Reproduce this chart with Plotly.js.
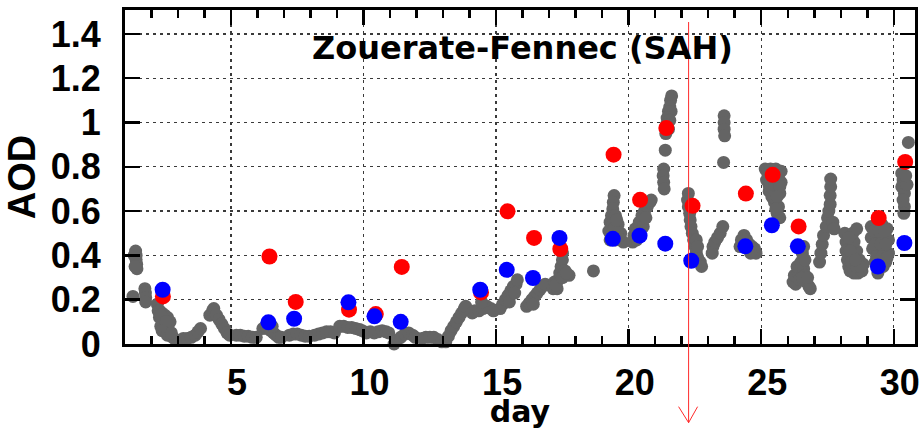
<!DOCTYPE html>
<html>
<head>
<meta charset="utf-8">
<script src="https://cdn.plot.ly/plotly-3.0.1.min.js"></script>
<style>html,body{margin:0;padding:0;background:#fff}</style>
</head>
<body>
<div id="chart" style="width:920px;height:429px"></div>
<script>
// Ground-based AOD samples through the month (day of month, AOD)
const grayDay = [
  1.30,1.40,1.42,1.42,1.44,1.45,1.35,1.38,1.75,1.77,1.78,1.78,
  2.22,2.25,2.30,2.40,2.50,2.60,2.30,2.45,2.60,2.70,2.35,2.50,2.65,2.70,2.80,2.90,2.35,2.55,2.40,2.60,2.75,
  3.20,3.35,3.50,3.65,3.75,3.85,
  4.20,4.30,4.35,4.45,4.55,4.65,4.75,4.85,4.95,
  5.20,5.35,5.50,5.65,5.80,5.95,
  6.20,6.35,6.50,6.60,6.70,6.80,6.90,6.55,
  7.20,7.35,7.50,7.65,7.80,7.95,
  8.15,8.30,8.45,8.60,8.75,8.90,
  9.10,9.25,9.40,9.55,9.70,9.85,9.95,
  10.10,10.25,10.40,10.55,10.70,10.85,10.95,
  11.15,11.25,11.40,11.55,11.70,11.85,11.95,
  12.20,12.35,12.50,12.65,12.80,12.95,
  13.10,13.20,13.30,13.40,13.50,13.60,13.70,13.80,13.85,
  14.10,14.20,14.35,14.50,14.65,14.80,14.90,14.45,
  15.15,15.25,15.35,15.45,15.55,15.65,15.75,15.80,15.50,15.70,
  16.15,16.25,16.35,16.45,16.55,16.65,16.75,16.85,16.40,
  17.15,17.30,17.20,17.35,17.40,17.45,17.50,17.50,17.60,17.75,17.25,17.50,17.65,
  18.67,
  19.45,19.42,19.40,19.35,19.50,19.30,19.45,19.60,19.25,19.40,19.55,19.70,19.30,19.50,19.70,19.80,19.35,19.60,19.45,19.55,
  20.15,20.20,20.30,20.25,20.40,20.50,20.60,20.70,20.80,20.85,20.40,20.55,20.30,20.65,
  21.62,21.58,21.55,21.50,21.60,21.45,21.55,21.42,21.50,21.40,21.38,21.32,21.30,21.32,21.34,
  22.25,22.22,22.25,22.30,22.32,22.35,22.40,22.45,22.50,22.55,22.60,22.70,22.75,22.55,22.60,
  23.15,23.18,23.25,23.35,23.45,23.55,23.60,23.60,23.60,23.62,23.58,
  24.20,24.25,24.35,24.45,24.55,24.65,24.75,24.80,24.60,
  25.15,25.35,25.55,25.75,25.20,25.40,25.60,25.75,25.30,25.50,25.70,25.50,25.65,25.60,25.70,
  25.25,25.45,25.65,25.30,25.50,25.70,25.40,25.60,25.55,
  26.20,26.30,26.25,26.40,26.35,26.50,26.55,26.60,26.60,26.65,26.70,26.80,26.85,26.65,26.45,26.55,26.75,
  27.20,27.25,27.30,27.35,27.45,27.50,27.55,27.60,27.60,27.62,27.62,27.70,27.75,
  28.15,28.20,28.20,28.25,28.30,28.35,28.50,28.65,28.80,28.85,28.70,28.60,28.50,28.45,28.60,
  28.30,28.35,28.40,28.60,28.75,28.55,
  29.15,29.35,29.55,29.75,29.15,29.35,29.55,29.80,29.20,29.40,29.60,29.80,29.30,29.50,29.70,29.40,
  29.25,29.45,29.65,29.30,29.50,29.70,29.35,29.55,29.75,29.45,29.60,
  30.55,30.30,30.35,30.30,30.40,30.35,30.40,30.38,30.50,30.45
];
const grayAod = [
  0.215,0.42,0.40,0.38,0.36,0.34,0.40,0.35,0.25,0.23,0.21,0.19,
  0.18,0.15,0.15,0.14,0.13,0.12,0.12,0.10,0.09,0.10,0.08,0.07,0.06,0.04,0.03,0.02,0.13,0.10,0.06,0.04,0.05,
  0.025,0.025,0.03,0.04,0.055,0.07,
  0.13,0.15,0.16,0.13,0.11,0.09,0.07,0.05,0.04,
  0.04,0.04,0.035,0.035,0.03,0.03,
  0.07,0.07,0.06,0.05,0.04,0.03,0.03,0.08,
  0.04,0.045,0.045,0.04,0.035,0.035,
  0.04,0.045,0.05,0.055,0.055,0.05,
  0.08,0.08,0.075,0.075,0.07,0.065,0.06,
  0.05,0.055,0.05,0.055,0.06,0.055,0.05,
  0.0,0.015,0.03,0.045,0.05,0.04,0.03,
  0.025,0.03,0.03,0.03,0.02,0.01,
  0.01,0.035,0.06,0.08,0.10,0.12,0.14,0.16,0.17,
  0.14,0.15,0.15,0.16,0.17,0.16,0.15,0.19,
  0.16,0.18,0.20,0.22,0.24,0.26,0.27,0.29,0.19,0.23,
  0.17,0.185,0.20,0.215,0.23,0.245,0.26,0.27,0.18,
  0.25,0.25,0.28,0.29,0.32,0.35,0.38,0.41,0.33,0.31,0.265,0.30,0.32,
  0.33,
  0.67,0.64,0.61,0.58,0.58,0.55,0.55,0.54,0.51,0.51,0.50,0.50,0.47,0.47,0.47,0.46,0.49,0.48,0.52,0.56,
  0.46,0.49,0.47,0.52,0.55,0.58,0.60,0.62,0.64,0.65,0.50,0.53,0.50,0.57,
  1.12,1.10,1.07,1.05,1.05,1.02,1.01,0.99,0.97,0.95,0.875,0.79,0.76,0.73,0.70,
  0.68,0.65,0.62,0.59,0.56,0.53,0.50,0.47,0.44,0.41,0.39,0.37,0.35,0.47,0.44,
  0.41,0.44,0.46,0.48,0.50,0.53,1.03,1.00,0.97,0.94,0.82,
  0.44,0.47,0.49,0.47,0.45,0.44,0.43,0.41,0.41,
  0.79,0.79,0.79,0.78,0.74,0.74,0.74,0.73,0.69,0.69,0.68,0.64,0.62,0.59,0.57,
  0.77,0.77,0.76,0.715,0.715,0.71,0.665,0.665,0.61,
  0.28,0.27,0.31,0.32,0.35,0.37,0.41,0.44,0.34,0.31,0.28,0.26,0.25,0.38,0.29,0.30,0.30,
  0.37,0.41,0.45,0.49,0.53,0.57,0.60,0.63,0.67,0.71,0.745,0.55,0.52,
  0.50,0.46,0.42,0.38,0.35,0.33,0.32,0.32,0.33,0.36,0.38,0.42,0.46,0.50,0.52,
  0.48,0.42,0.37,0.35,0.35,0.38,
  0.53,0.54,0.54,0.52,0.48,0.48,0.48,0.47,0.43,0.42,0.42,0.41,0.37,0.36,0.37,0.32,
  0.51,0.51,0.51,0.45,0.45,0.45,0.395,0.395,0.39,0.345,0.35,
  0.91,0.77,0.74,0.71,0.68,0.65,0.62,0.59,0.72,0.76
];

// Daily values of the first retrieval (red)
const redDay = [2.43,6.45,7.44,9.45,10.46,11.44,14.43,15.43,16.43,17.42,19.43,20.43,21.42,22.41,24.42,25.43,26.41,29.43,30.43];
const redAod = [0.215,0.395,0.19,0.155,0.135,0.348,0.233,0.599,0.479,0.429,0.855,0.651,0.975,0.624,0.679,0.764,0.531,0.569,0.822];

// Daily values of the second retrieval (blue)
const blueDay = [2.42,6.41,7.38,9.43,10.41,11.40,14.40,15.40,16.39,17.39,19.40,20.41,21.38,22.36,24.40,25.40,26.38,29.40,30.40];
const blueAod = [0.245,0.098,0.114,0.188,0.125,0.10,0.245,0.335,0.298,0.479,0.475,0.489,0.453,0.376,0.441,0.536,0.441,0.35,0.456];

const xTickVals = [5, 10, 15, 20, 25, 30];
const xTickText = ['5', '10', '15', '20', '25', '30'];
const yTickVals = [0, 0.2, 0.4, 0.6, 0.8, 1.0, 1.2, 1.4];
const yTickText = ['0', '0.2', '0.4', '0.6', '0.8', '1', '1.2', '1.4'];

const siteName = 'Zouerate-Fennec (SAH)';
const markedDay = 22.26;   // day flagged by the vertical arrow

const SANS = 'Liberation Sans';
const WIDE = 'DejaVu Sans';
const ink = '#000000';

const traces = [
  {
    x: grayDay, y: grayAod, type: 'scatter', mode: 'markers',
    marker: {color: '#646464', size: 13, line: {width: 0}},
    cliponaxis: false, hoverinfo: 'skip', showlegend: false
  },
  {
    x: redDay, y: redAod, type: 'scatter', mode: 'markers',
    marker: {color: '#ff0000', size: 16, line: {width: 0}},
    showlegend: false
  },
  {
    x: blueDay, y: blueAod, type: 'scatter', mode: 'markers',
    marker: {color: '#0000ff', size: 16, line: {width: 0}},
    showlegend: false
  }
];

const axisCommon = {
  ticks: 'inside', ticklen: 15, tickwidth: 2.5, tickcolor: ink,
  showline: true, linewidth: 3, linecolor: ink, mirror: 'ticks',
  showgrid: true, gridcolor: '#3a3a3a', gridwidth: 1.3, griddash: '3px,4px',
  zeroline: false, fixedrange: true,
  tickfont: {family: SANS, size: 36, color: ink, weight: 'bold'}
};

const arrowTip = -0.2355;
const layout = {
  width: 920, height: 429,
  margin: {l: 125, r: 5, t: 10, b: 85},
  paper_bgcolor: '#ffffff', plot_bgcolor: '#ffffff',
  showlegend: false,
  xaxis: Object.assign({}, axisCommon, {
    range: [1, 30.8],
    tickmode: 'array', tickvals: xTickVals, ticktext: xTickText,
    ticklabelstandoff: 5, ticklabelshift: 6,
    minor: {dtick: 1, tick0: 0, ticks: 'inside', ticklen: 8, tickwidth: 2.5, tickcolor: ink, showgrid: false},
    title: {text: 'day', font: {family: WIDE, size: 30, color: ink, weight: 'bold'}, standoff: 5}
  }),
  yaxis: Object.assign({}, axisCommon, {
    range: [0, 1.508],
    tickmode: 'array', tickvals: yTickVals, ticktext: yTickText,
    ticklabelstandoff: 14,
    title: {text: 'AOD', font: {family: SANS, size: 38, color: ink, weight: 'bold'}, standoff: 4}
  }),
  annotations: [{
    text: siteName, xref: 'paper', yref: 'paper', x: 0.503, y: 0.886,
    xanchor: 'center', yanchor: 'middle', showarrow: false,
    font: {family: WIDE, size: 32, color: ink, weight: 'bold'}
  }],
  shapes: [
    {type: 'line', layer: 'above', xref: 'x', yref: 'paper',
     x0: markedDay, x1: markedDay, y0: 0.964, y1: arrowTip,
     line: {color: '#ff2a2a', width: 1}},
    {type: 'line', layer: 'above', xref: 'x', yref: 'paper',
     xsizemode: 'pixel', xanchor: markedDay, x0: -10, x1: 0,
     ysizemode: 'pixel', yanchor: arrowTip, y0: 16, y1: 0,
     line: {color: '#ff2a2a', width: 1}},
    {type: 'line', layer: 'above', xref: 'x', yref: 'paper',
     xsizemode: 'pixel', xanchor: markedDay, x0: 9, x1: 0,
     ysizemode: 'pixel', yanchor: arrowTip, y0: 16, y1: 0,
     line: {color: '#ff2a2a', width: 1}}
  ]
};

Plotly.newPlot('chart', traces, layout, {displayModeBar: false, staticPlot: true});
</script>
</body>
</html>
